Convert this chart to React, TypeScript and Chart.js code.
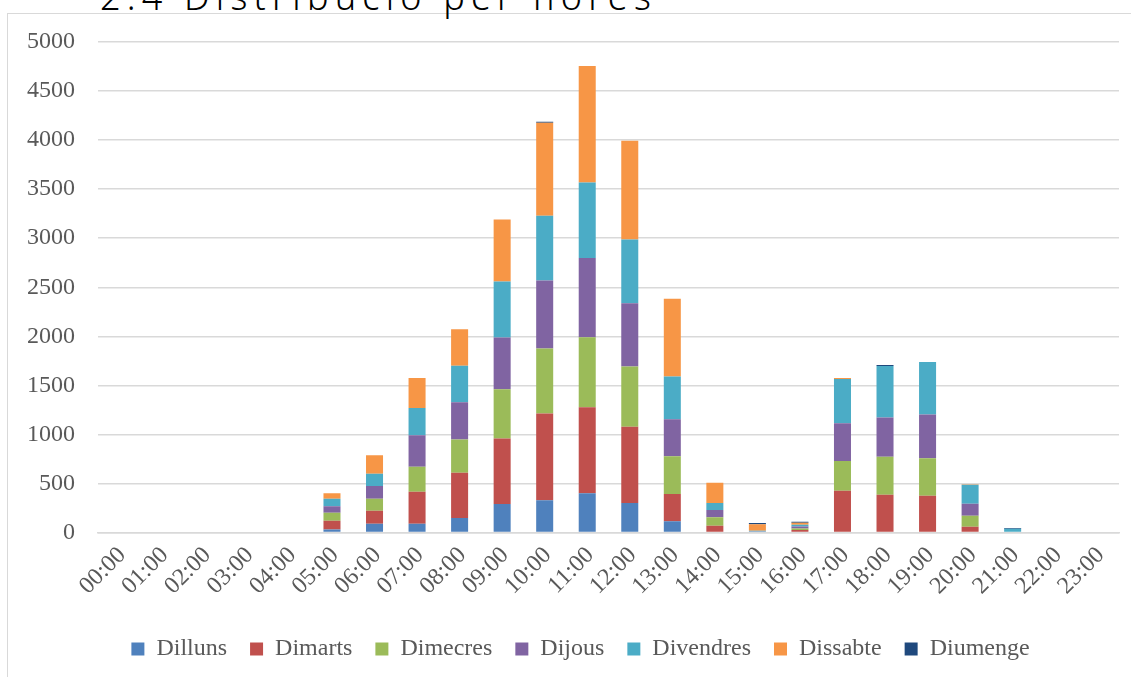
import { useEffect, useRef } from 'react';
import { Chart, registerables } from 'chart.js';

Chart.register(...registerables);

const hours = ['00:00','01:00','02:00','03:00','04:00','05:00','06:00','07:00','08:00','09:00','10:00','11:00','12:00','13:00','14:00','15:00','16:00','17:00','18:00','19:00','20:00','21:00','22:00','23:00'];

const dilluns =   [0,0,0,0,0,30,90,90,148,291,328,400,301,114,0,0,0,0,0,0,0,0,0,0];
const dimarts =   [0,0,0,0,0,90,132,326,462,666,884,877,778,279,69,0,25,426,386,375,59,0,0,0];
const dimecres =  [0,0,0,0,0,82,123,255,337,504,663,714,612,384,86,8,15,303,387,382,112,0,0,0];
const dijous =    [0,0,0,0,0,65,130,321,381,526,693,806,647,378,75,3,20,385,398,445,123,0,0,0];
const divendres = [0,0,0,0,0,78,125,278,373,571,660,771,649,434,71,8,20,452,527,537,194,38,0,0];
const dissabte =  [0,0,0,0,0,55,188,306,372,632,949,1187,1006,793,207,66,20,10,0,0,4,0,0,0];
const diumenge =  [0,0,0,0,0,0,0,0,0,0,10,0,0,0,0,12,10,0,10,0,0,8,0,0];

const seriesNames = ['Dilluns','Dimarts','Dimecres','Dijous','Divendres','Dissabte','Diumenge'];
const seriesValues = [dilluns, dimarts, dimecres, dijous, divendres, dissabte, diumenge];
const seriesColors = ['#4F81BD','#C0504D','#9BBB59','#8064A2','#4BACC6','#F79646','#1F497D'];

const yTicks = { min: 0, max: 5000, step: 500 };

const FONT = "'Liberation Serif', serif";
const TEXT = '#595959';

const shiftLegend = {
  id: 'shiftLegend',
  afterLayout(chart: any) {
    if (chart.legend) {
      chart.legend.left += 17;
      chart.legend.right += 17;
    }
  },
};

export default function App() {
  const ref = useRef<HTMLCanvasElement>(null);
  useEffect(() => {
    document.body.style.margin = '0';
    const chart = new Chart(ref.current!, {
      type: 'bar',
      data: {
        labels: hours,
        datasets: seriesNames.map((n, i) => ({
          label: n,
          data: seriesValues[i],
          backgroundColor: seriesColors[i],
          borderWidth: 0,
          barPercentage: 0.4,
          categoryPercentage: 1,
        })),
      },
      plugins: [shiftLegend],
      options: {
        animation: false,
        responsive: false,
        maintainAspectRatio: false,
        layout: { padding: { left: 8, right: 12, top: 42, bottom: 6 } },
        plugins: {
          legend: {
            position: 'bottom',
            labels: {
              boxWidth: 13,
              boxHeight: 13,
              padding: 23,
              color: TEXT,
              font: { family: FONT, size: 24 },
            },
          },
          tooltip: { enabled: false },
        },
        scales: {
          x: {
            stacked: true,
            grid: { display: false, drawTicks: false },
            border: { color: '#D9D9D9', width: 1.5 },
            ticks: {
              autoSkip: false,
              minRotation: 45,
              maxRotation: 45,
              padding: 9,
              labelOffset: 3,
              color: TEXT,
              font: { family: FONT, size: 24 },
            },
            afterFit: (s: any) => { s.height = 81.5; },
          },
          y: {
            stacked: true,
            min: yTicks.min,
            max: yTicks.max,
            ticks: {
              stepSize: yTicks.step,
              padding: 23,
              color: TEXT,
              font: { family: FONT, size: 24 },
              callback: (v: any) => String(v),
            },
            grid: { color: '#D9D9D9', lineWidth: 1.5, drawTicks: false },
            border: { display: false },
            afterFit: (s: any) => { s.width = 90; },
          },
        },
      },
    });
    return () => chart.destroy();
  }, []);
  return (
    <div style={{ position: 'relative', width: 1131, height: 677, overflow: 'hidden', background: '#fff' }}>
      <div style={{ position: 'absolute', left: 7, top: 13, width: 2000, height: 2000, borderLeft: '1.5px solid #D9D9D9', borderTop: '1.5px solid #D9D9D9' }} />
      <div style={{ position: 'absolute', left: 100, top: -21, fontFamily: "'Noto Sans', sans-serif", fontSize: 36, lineHeight: '36px', letterSpacing: 6.2, color: '#000', whiteSpace: 'nowrap', fontWeight: 300 }}>2.4 Distribució per hores</div>
      <canvas ref={ref} width={1131} height={677} style={{ position: 'absolute', left: 0, top: 0 }} />
    </div>
  );
}
